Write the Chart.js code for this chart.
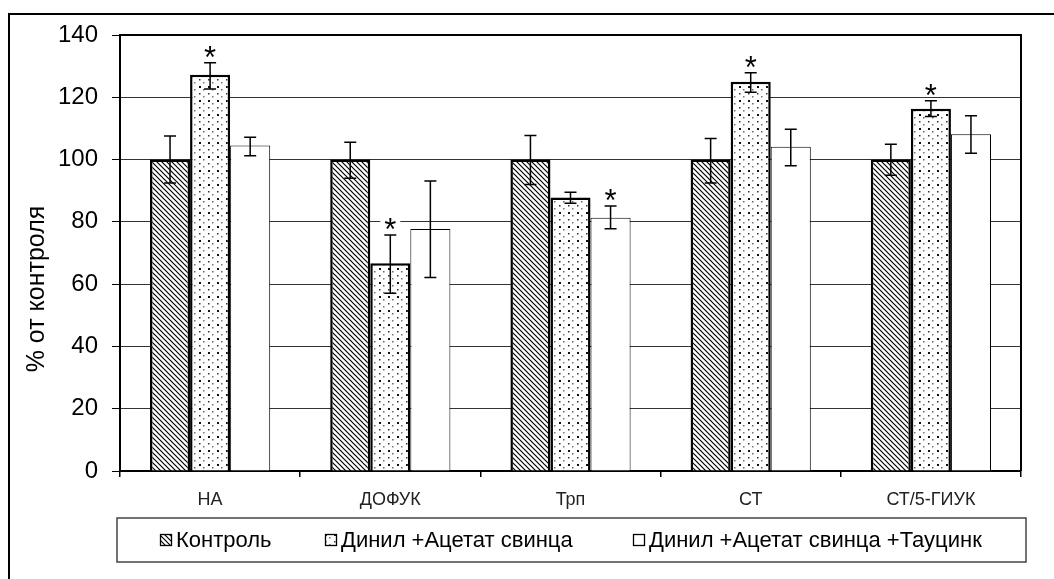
<!DOCTYPE html>
<html>
<head>
<meta charset="utf-8">
<script src="https://cdn.jsdelivr.net/npm/chart.js@4.4.1/dist/chart.umd.min.js"></script>
<style>
  body { margin: 0; background: #fff; }
  #wrap { position: relative; width: 1054px; height: 579px; }
  #frame { position: absolute; left: 8px; top: 13px; right: 0; bottom: -5px;
           border-left: 2px solid #000; border-top: 2px solid #000; pointer-events: none; }
  canvas { position: absolute; left: 0; top: 0; }
</style>
</head>
<body>
<div id="wrap">
  <canvas id="chart" width="1054" height="579"></canvas>
  <div id="frame"></div>
</div>
<script>
// data
const categories = ['НА', 'ДОФУК', 'Трп', 'СТ', 'СТ/5-ГИУК'];
const seriesNames = ['Контроль', 'Динил +Ацетат свинца', 'Динил +Ацетат свинца +Тауцинк'];

const control    = [100, 100, 100, 100, 100];
const controlLo  = [92.5, 94, 92, 92.5, 95];
const controlHi  = [107.6, 105.6, 107.7, 106.8, 104.9];

const dinil      = [127.2, 66.7, 87.8, 125, 116.3];
const dinilLo    = [122.7, 57.1, 86, 121.6, 113.8];
const dinilHi    = [131.1, 75.8, 89.5, 127.9, 118.9];

const tau        = [104.5, 77.7, 81.3, 104.1, 108.1];
const tauLo      = [101.2, 62.1, 77.8, 98, 102];
const tauHi      = [107.2, 93.1, 85.1, 109.7, 114.1];

// significance marks (1 = asterisk above the bar)
const dinilStar  = [1, 1, 0, 1, 1];
const tauStar    = [0, 0, 1, 0, 0];

const yTicks = [0, 20, 40, 60, 80, 100, 120, 140];

// fill patterns
function hatchPattern() {
    const c = document.createElement('canvas');
    c.width = 5; c.height = 5;
    const g = c.getContext('2d');
    g.fillStyle = '#fff';
    g.fillRect(0, 0, 5, 5);
    g.strokeStyle = '#000';
    g.lineWidth = 1.2;
    g.beginPath();
    g.moveTo(-1, -1); g.lineTo(6, 6);
    g.moveTo(-1, 4); g.lineTo(1, 6);
    g.moveTo(4, -1); g.lineTo(6, 1);
    g.stroke();
    return g.createPattern(c, 'repeat');
}

function dotPattern() {
    const c = document.createElement('canvas');
    c.width = 9; c.height = 14;
    const g = c.getContext('2d');
    g.fillStyle = '#fff';
    g.fillRect(0, 0, 9, 14);
    g.fillStyle = '#111';
    g.fillRect(1, 2, 2, 2);
    g.fillStyle = '#666';
    g.fillRect(5, 5, 1.5, 1.5);
    g.fillStyle = '#333';
    g.fillRect(1, 9, 1.5, 1.5);
    g.fillStyle = '#777';
    g.fillRect(5, 12, 1.5, 1.5);
    return g.createPattern(c, 'repeat');
}

const hatch = hatchPattern();
const dots = dotPattern();

const errors = [[controlLo, controlHi], [dinilLo, dinilHi], [tauLo, tauHi]];
const stars = [null, dinilStar, tauStar];

const errorBars = {
    id: 'errorBars',
    afterDatasetsDraw(chart) {
        const ctx = chart.ctx;
        const y = chart.scales.y;
        ctx.save();
        ctx.strokeStyle = '#000';
        ctx.lineWidth = 1.5;
        chart.data.datasets.forEach((ds, i) => {
            const meta = chart.getDatasetMeta(i);
            meta.data.forEach((bar, j) => {
                const lo = y.getPixelForValue(errors[i][0][j]);
                const hi = y.getPixelForValue(errors[i][1][j]);
                ctx.beginPath();
                ctx.moveTo(bar.x, lo); ctx.lineTo(bar.x, hi);
                ctx.moveTo(bar.x - 6, lo); ctx.lineTo(bar.x + 6, lo);
                ctx.moveTo(bar.x - 6, hi); ctx.lineTo(bar.x + 6, hi);
                ctx.stroke();
                if (stars[i] && stars[i][j]) {
                    ctx.fillStyle = '#fff';
                    ctx.fillRect(bar.x - 10, hi - 20, 20, 15);
                    ctx.fillStyle = '#000';
                    ctx.font = '31px "Liberation Sans", Arial, sans-serif';
                    ctx.textAlign = 'center';
                    ctx.textBaseline = 'alphabetic';
                    ctx.fillText('*', bar.x, hi + 5);
                }
            });
        });
        ctx.restore();
    }
};

const frameAndLegend = {
    id: 'frameAndLegend',
    afterDraw(chart) {
        const ctx = chart.ctx;
        const a = chart.chartArea;
        ctx.save();
        // plot border top/right
        ctx.strokeStyle = '#000';
        ctx.lineWidth = 2;
        ctx.beginPath();
        ctx.moveTo(a.left, a.top); ctx.lineTo(a.right, a.top); ctx.lineTo(a.right, a.bottom);
        ctx.stroke();

        // y axis title
        ctx.save();
        ctx.translate(37, 289);
        ctx.rotate(-Math.PI / 2);
        ctx.font = '25px "Liberation Sans", Arial, sans-serif';
        ctx.fillStyle = '#000';
        ctx.textAlign = 'center';
        ctx.textBaseline = 'middle';
        ctx.fillText('% от контроля', 0, 0);
        ctx.restore();

        // legend box
        ctx.strokeStyle = '#444';
        ctx.lineWidth = 1.5;
        ctx.strokeRect(117, 518, 909, 44);
        const fills = [hatch, dots, '#fff'];
        const iconX = [160, 325, 633];
        ctx.font = '22px "Liberation Sans", Arial, sans-serif';
        ctx.textBaseline = 'middle';
        ctx.textAlign = 'left';
        seriesNames.forEach((name, i) => {
            const x = iconX[i];
            ctx.fillStyle = fills[i];
            ctx.fillRect(x, 534, 12, 12);
            ctx.strokeStyle = '#000';
            ctx.lineWidth = 1.3;
            ctx.strokeRect(x + 0.5, 534.5, 11, 11);
            ctx.fillStyle = '#000';
            ctx.fillText(name, x + 16, 541);
        });
        ctx.restore();
    }
};

new Chart(document.getElementById('chart'), {
    type: 'bar',
    data: {
        labels: categories,
        datasets: [
            { label: seriesNames[0], data: control, backgroundColor: hatch, borderColor: '#000', borderWidth: 2.5 },
            { label: seriesNames[1], data: dinil, backgroundColor: dots, borderColor: '#000', borderWidth: 2.5 },
            { label: seriesNames[2], data: tau, backgroundColor: '#fff', borderColor: '#000', borderWidth: 1 }
        ]
    },
    options: {
        responsive: false,
        animation: false,
        layout: { padding: { left: 0, top: 35, right: 33, bottom: 0 } },
        datasets: { bar: { barPercentage: 1, categoryPercentage: 0.667 } },
        plugins: { legend: { display: false }, tooltip: { enabled: false } },
        scales: {
            x: {
                afterFit(s) { s.height = 108; },
                grid: { display: true, drawOnChartArea: false, offset: true, tickLength: 6, color: '#000', lineWidth: 1.5 },
                border: { color: '#000', width: 2 },
                ticks: { color: '#222', padding: 12, font: { family: '"Liberation Sans", Arial, sans-serif', size: 18 } }
            },
            y: {
                min: 0, max: 140,
                afterFit(s) { s.width = 120; },
                afterBuildTicks(s) { s.ticks = yTicks.map(v => ({ value: v })); },
                grid: { color: '#333', lineWidth: 1, tickLength: 8, tickColor: '#000' },
                border: { color: '#000', width: 2 },
                ticks: { color: '#000', padding: 14, font: { family: '"Liberation Sans", Arial, sans-serif', size: 24 } }
            }
        }
    },
    plugins: [errorBars, frameAndLegend]
});
</script>
</body>
</html>
